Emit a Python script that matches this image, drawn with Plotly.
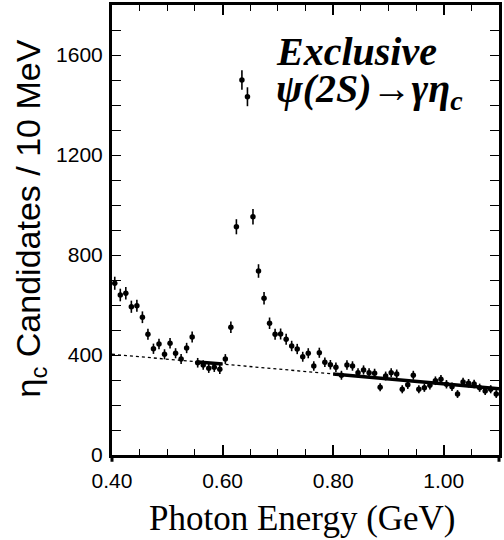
import plotly.graph_objects as go

# Photon energy bin centres (GeV), 10 MeV bins
energy = [0.405, 0.415, 0.425, 0.435, 0.445, 0.455, 0.465, 0.475, 0.485, 0.495,
          0.505, 0.515, 0.525, 0.535, 0.545, 0.555, 0.565, 0.575, 0.585, 0.595,
          0.605, 0.615, 0.625, 0.635, 0.645, 0.655, 0.665, 0.675, 0.685, 0.695,
          0.705, 0.715, 0.725, 0.735, 0.745, 0.755, 0.765, 0.775, 0.785, 0.795,
          0.805, 0.815, 0.825, 0.835, 0.845, 0.855, 0.865, 0.875, 0.885, 0.895,
          0.905, 0.915, 0.925, 0.935, 0.945, 0.955, 0.965, 0.975, 0.985, 0.995,
          1.005, 1.015, 1.025, 1.035, 1.045, 1.055, 1.065, 1.075, 1.085, 1.095]
# eta_c candidates per 10 MeV
counts = [687, 640, 647, 593, 597, 551, 483, 425, 444, 403,
          447, 407, 384, 428, 472, 369, 360, 347, 351, 343,
          384, 511, 913, 1500, 1433, 953, 736, 627, 527, 483,
          484, 463, 436, 424, 393, 407, 356, 409, 371, 361,
          351, 319, 360, 356, 329, 340, 329, 327, 271, 316,
          329, 324, 263, 281, 319, 263, 269, 279, 297, 303,
          283, 273, 244, 292, 287, 284, 269, 256, 263, 244]

# stray mark on the axis
stray_x = [0.445]
stray_y = [-6]

# background fit line
bg_x = [0.40, 0.80, 1.10]
bg_y = [403, 324, 265]
# fitted (solid) segments
fit1_x = [0.555, 0.600]
fit1_y = [372, 364]
fit2_x = [0.80, 1.10]
fit2_y = [324, 265]

x_ticks = [0.40, 0.60, 0.80, 1.00]
x_tick_text = ["0.40", "0.60", "0.80", "1.00"]
y_ticks = [0, 400, 800, 1200, 1600]

fig = go.Figure()
fig.add_trace(go.Scatter(x=bg_x, y=bg_y, mode="lines",
                         line=dict(color="black", width=1.3, dash="dot"),
                         hoverinfo="skip"))
fig.add_trace(go.Scatter(x=fit1_x, y=fit1_y, mode="lines",
                         line=dict(color="black", width=3.5)))
fig.add_trace(go.Scatter(x=fit2_x, y=fit2_y, mode="lines",
                         line=dict(color="black", width=3.5)))
fig.add_trace(go.Scatter(
    x=energy, y=counts, mode="markers",
    marker=dict(color="black", size=5.5, symbol="circle"),
    error_y=dict(type="sqrt", color="black", thickness=1.6, width=0),
))
fig.add_trace(go.Scatter(x=stray_x, y=stray_y, mode="markers",
                         marker=dict(color="black", size=5, symbol="square"),
                         cliponaxis=False))

tickfont = dict(family="Liberation Sans, Arial, sans-serif", size=21, color="black")

fig.update_layout(
    width=504, height=540,
    margin=dict(l=112, r=2, t=5, b=85),
    paper_bgcolor="white", plot_bgcolor="white",
    showlegend=False,
    xaxis=dict(
        range=[0.40, 1.10], tickvals=x_ticks, ticktext=x_tick_text,
        ticks="inside", ticklen=10, tickwidth=1.5, tickcolor="black",
        minor=dict(dtick=0.05, tick0=0.40, ticks="inside", ticklen=6,
                   tickwidth=1.2, tickcolor="black"),
        showline=True, linecolor="black", linewidth=2.5, mirror="ticks",
        showgrid=False, zeroline=False, tickfont=tickfont,
        ticklabelstandoff=5,
    ),
    yaxis=dict(
        range=[0, 1800], tickvals=y_ticks,
        ticks="inside", ticklen=9, tickwidth=1.2, tickcolor="black",
        minor=dict(dtick=100, ticks="inside", ticklen=9,
                   tickwidth=1.2, tickcolor="black"),
        showline=True, linecolor="black", linewidth=3, mirror="ticks",
        showgrid=False, zeroline=False, tickfont=tickfont,
        ticklabelstandoff=2,
    ),
    shapes=[
        dict(type="line", xref="paper", yref="paper", x0=0, x1=0, y0=0, y1=-0.015,
             line=dict(color="black", width=3)),
        dict(type="line", xref="paper", yref="paper", x0=1, x1=1, y0=0, y1=-0.015,
             line=dict(color="black", width=3)),
    ],
    annotations=[
        dict(text="η<sub>c</sub> Candidates / 10 MeV", textangle=-90,
             xref="paper", yref="paper", x=-0.21, y=0.525,
             xanchor="center", yanchor="middle", showarrow=False,
             font=dict(family="Liberation Sans, Arial, sans-serif", size=34, color="black")),
        dict(text="Photon Energy (GeV)",
             xref="paper", yref="paper", x=0.491, y=(455 - 518) / 450,
             xanchor="center", yanchor="middle", showarrow=False,
             font=dict(family="Liberation Serif, Times New Roman, serif", size=35, color="black")),
        dict(text="<b><i>Exclusive</i></b>",
             xref="paper", yref="paper", x=(275 - 112) / 390, y=(455 - 51) / 450,
             xanchor="left", yanchor="middle", showarrow=False,
             font=dict(family="Liberation Serif, Times New Roman, serif", size=40, color="black")),
        dict(text="<b><i>ψ(2S)→γη<sub>c</sub></i></b>",
             xref="paper", yref="paper", x=(275 - 112) / 390, y=(455 - 91) / 450,
             xanchor="left", yanchor="middle", showarrow=False,
             font=dict(family="Liberation Serif, Times New Roman, serif", size=40, color="black")),
    ],
)

fig.write_html("out.html", config={"displayModeBar": False},
               post_script="document.body.style.margin='0';")
